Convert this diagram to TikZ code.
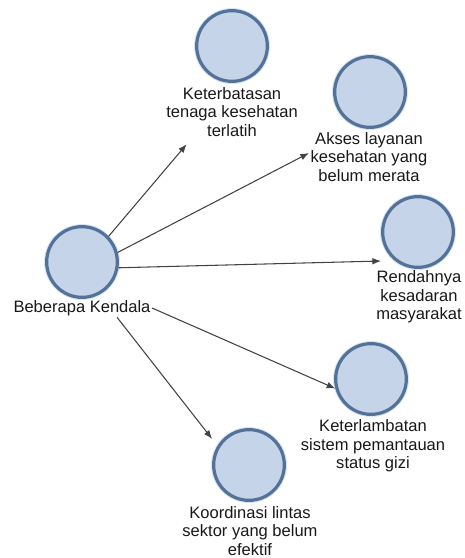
\documentclass[tikz,border=0pt]{standalone}
\usepackage{fontspec}
\setmainfont{Liberation Sans}
\usetikzlibrary{arrows.meta,calc}
\definecolor{ringc}{RGB}{84,114,152}
\definecolor{fillc}{RGB}{198,212,234}
\definecolor{haloc}{RGB}{214,230,248}
\definecolor{arrc}{RGB}{64,68,72}
\definecolor{txtc}{RGB}{24,24,24}
\tikzset{
  blob/.style={circle, draw=ringc, fill=fillc, line width=2.4pt, minimum size=53pt, inner sep=0pt,
    preaction={draw=haloc, line width=4pt}},
  lbl/.style={align=center, text=txtc, inner sep=1pt, font=\fontsize{12.4}{13.9}\selectfont},
  conn/.style={draw=arrc, line width=0.8pt, -{Latex[length=6.5pt,width=5pt]}}
}
\begin{document}
\begin{tikzpicture}[x=0.75pt,y=-0.75pt]
\useasboundingbox (0,0) rectangle (465,558);
\node[blob] (c0) at (82,262) {};
\node[lbl] (l0) at (82,308) {Beberapa Kendala};
\node[blob] (c1) at (232,46) {};
\node[lbl] (l1) at (232,112) {Keterbatasan\\tenaga kesehatan\\terlatih};
\node[blob] (c2) at (370,92) {};
\node[lbl] (l2) at (369,157) {Akses layanan\\kesehatan yang\\belum merata};
\node[blob] (c3) at (418,232) {};
\node[lbl] (l3) at (419,297) {Rendahnya\\kesadaran\\masyarakat};
\node[blob] (c4) at (371,379) {};
\node[lbl] (l4) at (373,446) {Keterlambatan\\sistem pemantauan\\status gizi};
\node[blob] (c5) at (249,465) {};
\node[lbl] (l5) at (250,531) {Koordinasi lintas\\sektor yang belum\\efektif};
\draw[conn] (c0.44) -- ($(l1.south west)+(22,6)$);
\draw[conn] (c0.15) -- ($(l2.west)+(0,-4)$);
\draw[conn] (c0.-9) -- ($(c3.west)+(0,29)$);
\draw[conn] (l0.east) -- (c4.195);
\draw[conn] ($(l0.south)!0.5!(l0.south east)$) -- (c5.west |- c5.north west);
\end{tikzpicture}
\end{document}
